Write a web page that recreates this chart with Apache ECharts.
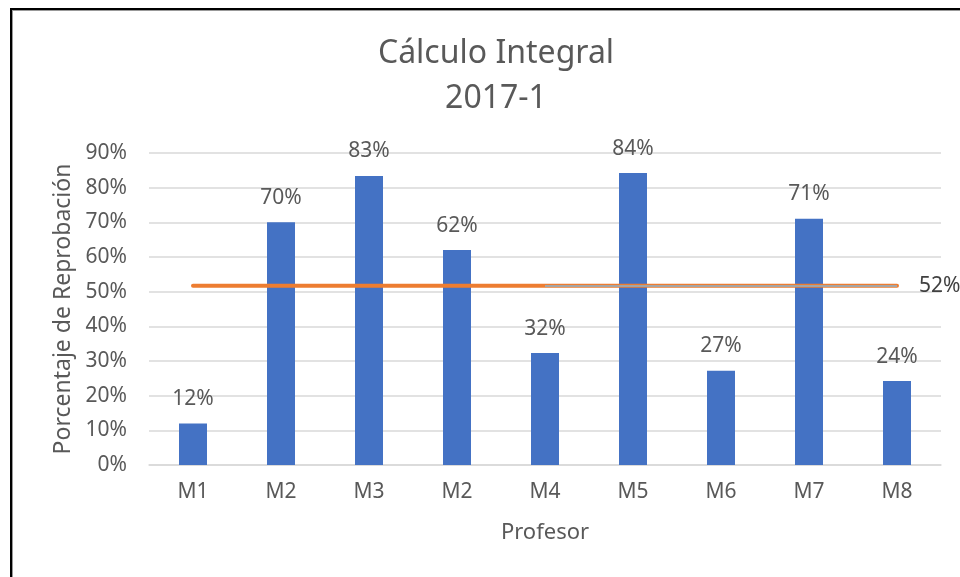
<!DOCTYPE html>
<html>
<head>
<meta charset="utf-8">
<script src="https://cdn.jsdelivr.net/npm/echarts@6/dist/echarts.min.js"></script>
<style>
html,body{margin:0;padding:0;background:#fff;}
#frame{position:absolute;left:10px;top:8px;width:960px;height:580px;border-left:2px solid #000;border-top:2px solid #000;box-shadow:inset 1px 1px 0 #999;}
#chart{position:absolute;left:0;top:0;width:960px;height:577px;}
</style>
</head>
<body>
<div id="frame"></div>
<div id="chart"></div>
<script>
const categories = ['M1','M2','M3','M2','M4','M5','M6','M7','M8'];
const reprobacion = [12, 70, 83.4, 62, 32.3, 84.2, 27.2, 71, 24.2];
const promedio = [51.7, 51.7, 51.7, 51.7, 51.7, 51.7, 51.7, 51.7, 51.7];
const yTicks = [0, 10, 20, 30, 40, 50, 60, 70, 80, 90];
const promedioLabel = '52%';

const font = 'Noto Sans';
const txt = '#595959';

const chart = echarts.init(document.getElementById('chart'), null, {renderer:'canvas'});
chart.setOption({
  animation: false,
  textStyle: {fontFamily: font},
  title: {
    text: 'Cálculo Integral\n2017-1',
    left: 491, top: 26, textAlign: 'center',
    textStyle: {fontFamily: font, fontSize: 32, fontWeight: 'normal', color: txt, lineHeight: 45}
  },
  grid: {left: 149, right: 19, top: 153, bottom: 112, containLabel: false},
  xAxis: {
    type: 'category',
    data: categories,
    name: 'Profesor',
    nameLocation: 'middle',
    nameGap: 57,
    nameTextStyle: {fontFamily: font, fontSize: 22, color: txt},
    axisLine: {lineStyle: {color: '#D9D9D9', width: 1.5}},
    axisTick: {show: false},
    axisLabel: {fontFamily: font, fontSize: 21, color: txt, margin: 17}
  },
  yAxis: {
    type: 'value',
    min: yTicks[0], max: yTicks[yTicks.length-1], interval: 10,
    name: 'Porcentaje de Reprobación',
    nameLocation: 'middle',
    nameGap: 71,
    nameTextStyle: {fontFamily: font, fontSize: 23, color: txt},
    axisLine: {show: false},
    axisTick: {show: false},
    splitLine: {lineStyle: {color: '#D9D9D9', width: 1.5}},
    axisLabel: {fontFamily: font, fontSize: 21, color: txt, margin: 22, formatter: v => v + '%'}
  },
  series: [
    {
      type: 'bar',
      data: reprobacion,
      barWidth: 28,
      itemStyle: {color: '#4472C4'},
      label: {show: true, position: 'top', distance: 14, fontFamily: font, fontSize: 21, color: txt,
        formatter: p => Math.round(p.value) + '%'},
      z: 2
    },
    {
      type: 'line',
      data: promedio,
      symbol: 'none',
      lineStyle: {color: '#ED7D31', width: 4, cap: 'round'},
      z: 3,
      markLine: {
        silent: true,
        symbol: ['none','none'],
        lineStyle: {color: '#A5A5A5', width: 2, type: 'solid'},
        label: {show: true, position: 'end', distance: 22, formatter: promedioLabel,
          fontFamily: font, fontSize: 21, color: '#404040'},
        data: [[{coord: [4, promedio[4]]}, {coord: [8, promedio[8]]}]],
        z: 4
      }
    }
  ]
});
</script>
</body>
</html>
